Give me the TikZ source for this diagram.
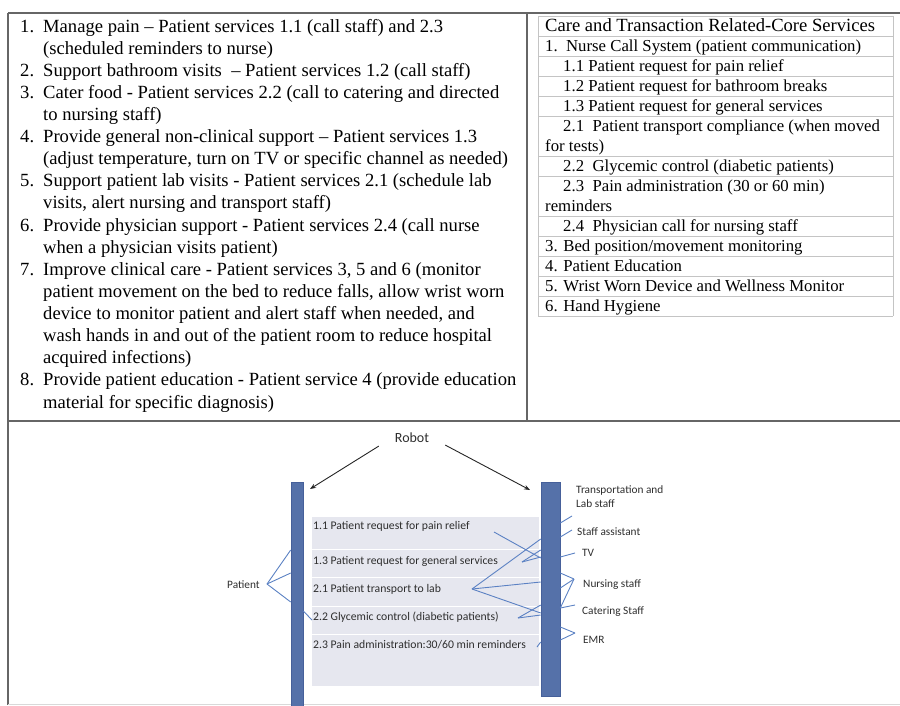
\documentclass[tikz,border=0pt]{standalone}
\usepackage{fontspec}
\setmainfont{Liberation Serif}
\newfontfamily\labelfont{Carlito}
\usetikzlibrary{arrows.meta,calc}

\definecolor{framegray}{HTML}{666666}
\definecolor{cellgray}{HTML}{C4C4C4}
\definecolor{barblue}{HTML}{5571A9}
\definecolor{baredge}{HTML}{46609A}
\definecolor{panelgray}{HTML}{E6E7EF}
\definecolor{linkblue}{HTML}{5B81C3}
\definecolor{inkgray}{HTML}{2E2E2E}

% baseline of line k (0-based) of the numbered list
\newcommand{\lineY}[1]{32+#1*22.12}

\begin{document}
\begin{tikzpicture}[x=1pt,y=-1pt,
  frame/.style={draw=framegray,line width=1.1pt},
  cellrule/.style={draw=cellgray,line width=0.8pt},
  listnum/.style={anchor=base west,inner sep=0pt,font=\fontsize{18.6}{22.12}\selectfont},
  % multi-line nodes are placed by the baseline of their last line
  listtext/.style={anchor=base west,inner sep=0pt,align=left,font=\fontsize{18.6}{22.12}\selectfont},
  headtext/.style={anchor=base west,inner sep=0pt,font=\fontsize{18.6}{20}\selectfont},
  celltext/.style={anchor=base west,inner sep=0pt,font=\fontsize{16.75}{20}\selectfont},
  bar/.style={draw=baredge,fill=barblue,line width=0.6pt,inner sep=0pt},
  panel/.style={fill=panelgray,inner sep=0pt},
  rowtext/.style={anchor=west,inner sep=0pt,text=inkgray,font=\labelfont\fontsize{11.7}{14}\selectfont},
  sidelabel/.style={anchor=west,inner sep=0pt,text=inkgray,align=left,font=\labelfont\fontsize{11.3}{14}\selectfont},
  link/.style={draw=linkblue,line width=0.9pt},
  robotarrow/.style={draw=black!85,line width=0.9pt,-{Stealth[length=6pt,width=4.5pt]}}
]
\useasboundingbox (0,0) rectangle (900,705);

% ---------- outer table frame ----------
\draw[frame] (8,13) -- (900,13);
\draw[frame] (8,13) -- (8,705);
\draw[frame] (527,13) -- (527,421);
\draw[frame] (8,421) -- (900,421);
\draw[draw=black!15,line width=0.8pt] (8,704) -- (900,704);

% ---------- numbered list (left cell) ----------
\foreach \n/\k in {1/0,2/2,3/3,4/5,5/7,6/9,7/11,8/16}
  \node[listnum] (num\n) at (20,\lineY{\k}) {\n.};
\node[listtext] (item1) at (43,\lineY{1}) {Manage pain -- Patient services 1.1 (call staff) and 2.3\\(scheduled reminders to nurse)};
\node[listtext] (item2) at (43,\lineY{2}) {Support bathroom visits\ \ -- Patient services 1.2 (call staff)};
\node[listtext] (item3) at (43,\lineY{4}) {Cater food - Patient services 2.2 (call to catering and directed\\to nursing staff)};
\node[listtext] (item4) at (43,\lineY{6}) {Provide general non-clinical support -- Patient services 1.3\\(adjust temperature, turn on TV or specific channel as needed)};
\node[listtext] (item5) at (43,\lineY{8}) {Support patient lab visits - Patient services 2.1 (schedule lab\\visits, alert nursing and transport staff)};
\node[listtext] (item6) at (43,\lineY{10}) {Provide physician support - Patient services 2.4 (call nurse\\when a physician visits patient)};
\node[listtext] (item7) at (43,\lineY{15}) {Improve clinical care - Patient services 3, 5 and 6 (monitor\\patient movement on the bed to reduce falls, allow wrist worn\\device to monitor patient and alert staff when needed, and\\wash hands in and out of the patient room to reduce hospital\\acquired infections)};
\node[listtext] (item8) at (43,\lineY{17}) {Provide patient education - Patient service 4 (provide education\\material for specific diagnosis)};

% ---------- services table (right cell) ----------
\foreach \y in {16,36,56,76,96,116,156,176,216,236,256,276,296,316}
  \draw[cellrule] (538,\y) -- (893,\y);
\draw[cellrule] (538,16) -- (538,316);
\draw[cellrule] (893,16) -- (893,316);

\node[headtext] (svc0)  at (545,31)  {Care and Transaction Related-Core Services};
\node[celltext] (svc1)  at (545,51)  {1.\ \ Nurse Call System (patient communication)};
\node[celltext] (svc11) at (563,71)  {1.1 Patient request for pain relief};
\node[celltext] (svc12) at (563,91)  {1.2 Patient request for bathroom breaks};
\node[celltext] (svc13) at (563,111) {1.3 Patient request for general services};
\node[celltext] (svc21) at (563,131) {2.1\ \ Patient transport compliance (when moved};
\node[celltext] (svc21b) at (545,151) {for tests)};
\node[celltext] (svc22) at (563,171) {2.2\ \ Glycemic control (diabetic patients)};
\node[celltext] (svc23) at (563,191) {2.3\ \ Pain administration (30 or 60 min)};
\node[celltext] (svc23b) at (545,211) {reminders};
\node[celltext] (svc24) at (563,231) {2.4\ \ Physician call for nursing staff};
\node[celltext] (svc3)  at (545,251) {3. Bed position/movement monitoring};
\node[celltext] (svc4)  at (545,271) {4. Patient Education};
\node[celltext] (svc5)  at (545,291) {5. Wrist Worn Device and Wellness Monitor};
\node[celltext] (svc6)  at (545,311) {6. Hand Hygiene};

% ---------- robot service flow ----------
\node[inner xsep=16pt,inner ysep=3pt,text=inkgray,font=\labelfont\fontsize{14}{16}\selectfont] (robot) at (412,438) {Robot};

\node[bar,minimum width=12pt,minimum height=228pt] (lbar) at (297,596) {};
\node[bar,minimum width=19pt,minimum height=214pt] (rbar) at (550.5,589) {};

\node[panel,minimum width=227pt,minimum height=169pt] (panel) at (425.5,601.5) {};
\foreach \y in {549.5,577.5,606.5,634.5}
  \draw[white,line width=1.8pt] (panel.west |- 0,\y) -- (panel.east |- 0,\y);

\coordinate (lhead) at (310,489);
\coordinate (rhead) at (530,490);
\draw[robotarrow] (robot.south west) -- (lhead);
\draw[robotarrow] (robot.-12) -- (rhead);

\node[rowtext] (t11) at (313,526) {1.1 Patient request for pain relief};
\node[rowtext] (t13) at (313,561) {1.3 Patient request for general services};
\node[rowtext] (t21) at (313,589) {2.1 Patient transport to lab};
\node[rowtext] (t22) at (313,617) {2.2 Glycemic control (diabetic patients)};
\node[rowtext] (t23) at (313,645) {2.3 Pain administration:30/60 min reminders};

% patient side
\node[sidelabel] (patient) at (227,585) {Patient};
\coordinate (pj) at (267,584);
\foreach \y in {550,573,602}
  \draw[link] (pj) -- (lbar.west |- 0,\y);
\coordinate (t22tick) at (312,620);
\draw[link] (lbar.east |- 0,611) -- (t22tick);

% links from the service rows to the staff bar
\coordinate (j11) at (494,532);
\coordinate (j13) at (522,562);
\coordinate (j21) at (472,589);
\coordinate (j22) at (518,618);
\coordinate (j23) at (537,647);
\draw[link] (j11) -- (rbar.west |- 0,558);
\foreach \y in {550,557}
  \draw[link] (j13) -- (rbar.west |- 0,\y);
\foreach \y in {539,582,613}
  \draw[link] (j21) -- (rbar.west |- 0,\y);
\foreach \y in {605,615}
  \draw[link] (j22) -- (rbar.west |- 0,\y);
\draw[link] (j23) -- (rbar.west |- 0,642);

% staff side labels
\node[sidelabel,anchor=north west] (transport) at (576,485) {Transportation and\\Lab staff};
\node[sidelabel] (staff) at (577,532) {Staff assistant};
\node[sidelabel] (tv) at (582,553) {TV};
\node[sidelabel] (nursing) at (583,585) {Nursing staff};
\node[sidelabel] (catering) at (582,612) {Catering Staff};
\node[sidelabel] (emr) at (583,640) {EMR};

\coordinate (kTransport) at (572,516);
\coordinate (kStaff) at (572,530);
\coordinate (kTV) at (575,553);
\coordinate (kNursing) at (574,579);
\coordinate (kCatering) at (575,605);
\coordinate (kEMR) at (575,633);
\draw[link] (rbar.east |- 0,523) -- (kTransport);
\draw[link] (rbar.east |- 0,537) -- (kStaff);
\draw[link] (rbar.east |- 0,557) -- (kTV);
\foreach \y in {573,588,608}
  \draw[link] (rbar.east |- 0,\y) -- (kNursing);
\draw[link] (rbar.east |- 0,608) -- (kCatering);
\foreach \y in {627,640}
  \draw[link] (rbar.east |- 0,\y) -- (kEMR);
\end{tikzpicture}
\end{document}
